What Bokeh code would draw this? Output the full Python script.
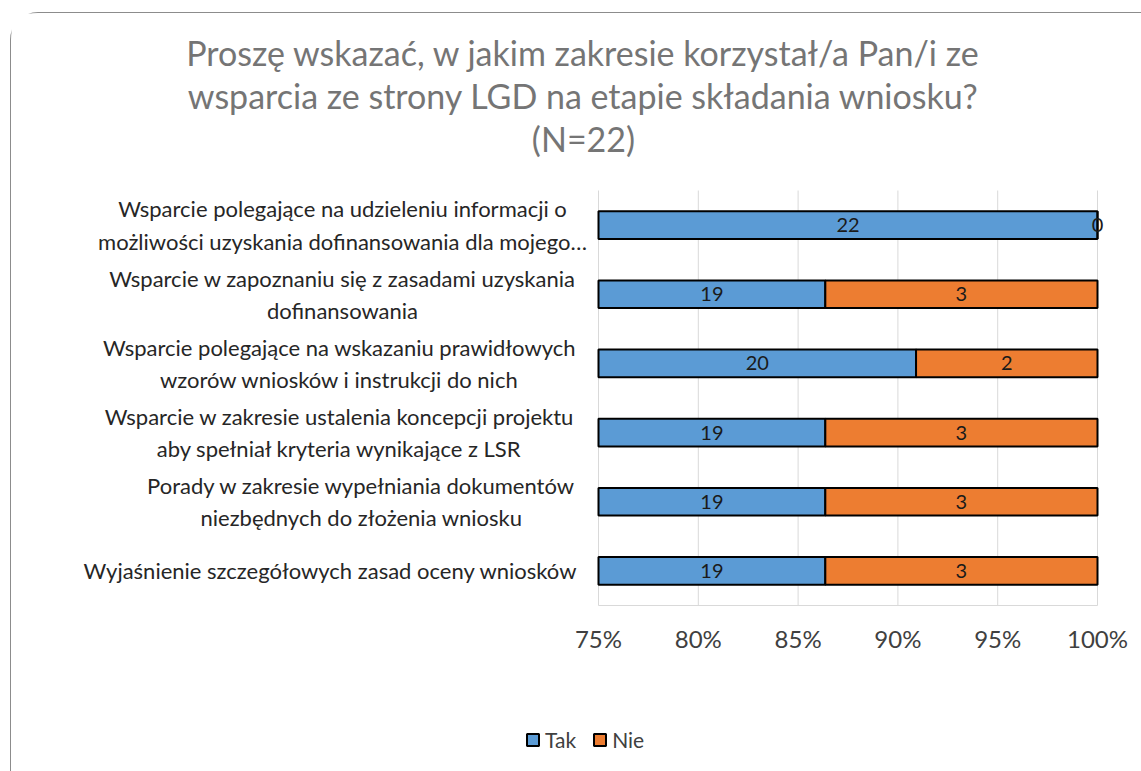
from bokeh.plotting import figure
from bokeh.models import (Range1d, FixedTicker, NumeralTickFormatter, ColumnDataSource,
                          LabelSet, Label, Legend, LegendItem)
from bokeh.core.properties import value
from bokeh.embed import file_html
from bokeh.resources import INLINE

# ---- data ----
categories = [
    "Wsparcie polegające na udzieleniu informacji o\nmożliwości uzyskania dofinansowania dla mojego…",
    "Wsparcie w zapoznaniu się z zasadami uzyskania\ndofinansowania",
    "Wsparcie polegające na wskazaniu prawidłowych\nwzorów wniosków i instrukcji do nich",
    "Wsparcie w zakresie ustalenia koncepcji projektu\naby spełniał kryteria wynikające z LSR",
    "Porady w zakresie wypełniania dokumentów\nniezbędnych do złożenia wniosku",
    "Wyjaśnienie szczegółowych zasad oceny wniosków",
]
tak = [22, 19, 20, 19, 19, 19]
nie = [0, 3, 2, 3, 3, 3]
N = 22
tick_values = [0.75, 0.80, 0.85, 0.90, 0.95, 1.00]
title_lines = ["Proszę wskazać, w jakim zakresie korzystał/a Pan/i ze",
               "wsparcia ze strony LGD na etapie składania wniosku?",
               "(N=22)"]

# ---- layout (pixels of the page) ----
FONT = "Lato"
BLUE = "#5B9BD5"
ORANGE = "#ED7D31"
OX, OY = 11, 13            # canvas origin on the page
W = 1131                   # canvas width
PAGE_B = 771               # bottom of the visible page
PL, PR = 598, 1097         # plot area left/right on page
PT, PB = 190, 605          # plot area top/bottom on page
X_MIN, X_MAX = tick_values[0], tick_values[-1]
NC = len(categories)

xppu = (PR - PL) / (X_MAX - X_MIN)
yppu = (PB - PT) / NC
x_start = X_MIN - (PL - OX) / xppu
x_end = X_MAX + (OX + W - PR) / xppu
y_top = -(PT - OY) / yppu
y_bot = (PAGE_B - PT) / yppu


def px2x(px):
    return X_MIN + (px - PL) / xppu


def py2y(py):
    return (py - PT) / yppu


ypos = [i + 0.5 for i in range(NC)]
tak_pct = [t / N for t in tak]
tot_pct = [(t + n) / N for t, n in zip(tak, nie)]
src = ColumnDataSource(dict(
    y=ypos,
    left0=[X_MIN] * NC,
    tak_r=tak_pct,
    tot_r=tot_pct,
    tak_mid=[(X_MIN + p) / 2 for p in tak_pct],
    nie_mid=[(p + q) / 2 for p, q in zip(tak_pct, tot_pct)],
    tak_txt=[str(v) for v in tak],
    nie_txt=[str(v) for v in nie],
))

p = figure(width=W, output_backend="svg", toolbar_location=None,
           x_range=Range1d(x_start, x_end), y_range=Range1d(y_bot, y_top),
           min_border_left=0, min_border_right=0, min_border_top=0,
           min_border_bottom=0, frame_height=PAGE_B - OY)
p.styles = {"border-top": "1px solid #8c8c8c", "border-left": "1px solid #8c8c8c",
            "border-top-left-radius": "28px", "margin-left": "10px", "margin-top": "12px"}
p.outline_line_color = None
p.background_fill_color = "white"
p.border_fill_color = "white"
p.xgrid.grid_line_color = None
p.ygrid.grid_line_color = None

# vertical grid lines over the plot area only
p.segment(x0=tick_values, x1=tick_values, y0=[0] * len(tick_values), y1=[NC] * len(tick_values),
          line_color="#d9d9d9", line_width=1)

r_tak = p.hbar(y="y", left="left0", right="tak_r", height=0.4, source=src,
               fill_color=BLUE, line_color="black", line_width=2)
r_nie = p.hbar(y="y", left="tak_r", right="tot_r", height=0.4, source=src,
               fill_color=ORANGE, line_color="black", line_width=2)

for col, txt in (("tak_mid", "tak_txt"), ("nie_mid", "nie_txt")):
    p.add_layout(LabelSet(x=col, y="y", text=txt, source=src, text_align="center",
                          text_baseline="middle", text_font=value(FONT), text_font_size="20px",
                          text_color="#1a1a1a"))

p.yaxis.visible = False
p.xaxis.fixed_location = NC
p.xaxis.ticker = FixedTicker(ticks=tick_values)
p.xaxis.bounds = (X_MIN, X_MAX)
p.xaxis.formatter = NumeralTickFormatter(format="0%")
p.xaxis.axis_line_color = "#d9d9d9"
p.xaxis.major_tick_line_color = None
p.xaxis.minor_tick_line_color = None
p.xaxis.major_label_text_font = FONT
p.xaxis.major_label_text_font_size = "24px"
p.xaxis.major_label_text_color = "#404040"
p.xaxis.major_label_standoff = 12

# category labels (right-aligned block, centred lines)
centers = [342, 342, 339, 339, 361, 330]
for cat, y, cx in zip(categories, ypos, centers):
    p.add_layout(Label(x=px2x(cx), y=y, text=cat,
                       text_align="center", text_baseline="middle", text_font=FONT,
                       text_font_size="22px", text_color="#262626", text_line_height=1.2))

# title
for i, line in enumerate(title_lines):
    p.add_layout(Label(x=px2x(583), y=py2y(52 + i * 43), text=line,
                       text_align="center", text_baseline="middle", text_font=FONT,
                       text_font_size="34px", text_color="#757575"))

legend = Legend(items=[LegendItem(label="Tak", renderers=[r_tak]),
                       LegendItem(label="Nie", renderers=[r_nie])],
                orientation="horizontal", location=(525 - OX, 19),
                label_text_font=FONT, label_text_font_size="21px", label_text_color="#404040",
                glyph_width=15, glyph_height=15, spacing=16, label_standoff=5,
                background_fill_alpha=0, border_line_color=None, padding=0, margin=0)
p.add_layout(legend, "center")

open("out.html", "w").write(file_html(p, INLINE))
